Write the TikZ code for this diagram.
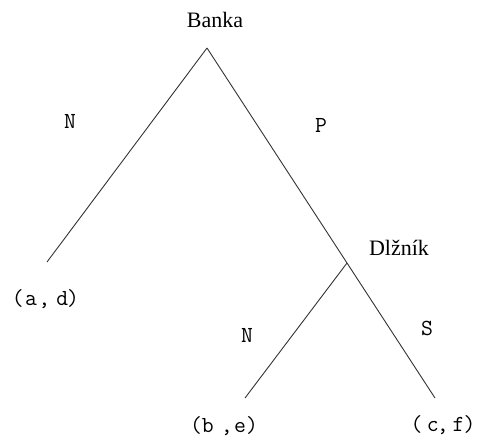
\documentclass[tikz,border=0pt]{standalone}
\usepackage{fontspec}
\setmainfont{Liberation Serif}
\begin{document}
\begin{tikzpicture}[x=1pt,y=-1pt,
  edge/.style={draw=black!80, line width=0.9pt},
  title/.style={font=\fontsize{22}{24}\selectfont, inner sep=0pt, anchor=base},
  lab/.style={font=\ttfamily\fontsize{23}{25}\selectfont, inner sep=0pt},
  letter/.style={font=\ttfamily\fontsize{23}{25}\selectfont, inner sep=0pt, anchor=base}]
\useasboundingbox (0,0) rectangle (479,445);
\coordinate (root) at (207,48);
\coordinate (dl) at (347,263);
\coordinate (la) at (47,262);
\coordinate (lb) at (245,398);
\coordinate (lc) at (435,398);
\node[title] (banka) at (215,27) {Banka};
\node[title] (dlznik) at (399,255) {Dlžník};
\node[lab] (ad) at (45.5,299) {(\hspace{1.4pt}a\hspace{1.4pt},\hspace{6pt}d\hspace{-1pt})};
\node[lab] (be) at (224,426) {(b\hspace{7pt},\hspace{1.5pt}e)};
\node[lab] (cf) at (443,425) {(\hspace{4.5pt}c\hspace{-2pt},\hspace{4pt}f\hspace{-1pt})};
\node[letter] (n1) at (70,128) {N};
\node[letter] (p) at (321,132) {P};
\node[letter] (n2) at (247,342) {N};
\node[letter] (s) at (427,335) {S};
\draw[edge] (root) -- (la);
\draw[edge] (root) -- (dl) -- (lc);
\draw[edge] (dl) -- (lb);
\end{tikzpicture}
\end{document}
